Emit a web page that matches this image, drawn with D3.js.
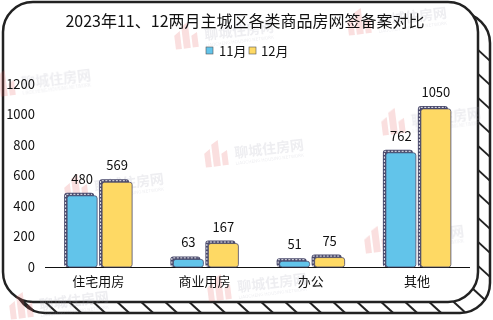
<!DOCTYPE html>
<html>
<head>
<meta charset="utf-8">
<script src="https://cdn.jsdelivr.net/npm/d3@7"></script>
<style>
  body { margin: 0; background: #fff; }
  svg { display: block; font-family: "Noto Sans CJK SC", "Noto Sans", sans-serif; }
</style>
</head>
<body>
<svg id="chart" width="493" height="320"></svg>
<script>
const title = '2023年11、12两月主城区各类商品房网签备案对比';
const categories = ['住宅用房', '商业用房', '办公', '其他'];
const seriesNames = ['11月', '12月'];
const nov = [480, 63, 51, 762];
const dec = [569, 167, 75, 1050];
const yTicks = [0, 200, 400, 600, 800, 1000, 1200];
const colors = ['#62c4ea', '#fed964'];
const watermarks = [[205, 40], [378, 26], [22, 88], [95, 192], [235, 158], [412, 126], [395, 244], [238, 292], [40, 310]];

const svg = d3.select('#chart');

// frame: rounded box with an extruded, ladder-like edge on right/bottom
const ix0 = 3, iy0 = 2, ix1 = 478, iy1 = 302, r = 30, dx = 12, dy = 11;
function roundRect(x0, y0, x1, y1, rr) {
  const p = d3.path();
  p.moveTo(x0 + rr, y0);
  p.lineTo(x1 - rr, y0); p.arcTo(x1, y0, x1, y0 + rr, rr);
  p.lineTo(x1, y1 - rr); p.arcTo(x1, y1, x1 - rr, y1, rr);
  p.lineTo(x0 + rr, y1); p.arcTo(x0, y1, x0, y1 - rr, rr);
  p.lineTo(x0, y0 + rr); p.arcTo(x0, y0, x0 + rr, y0, rr);
  p.closePath();
  return p.toString();
}
const frame = svg.append('g');
frame.append('path').attr('d', roundRect(ix0 + dx, iy0 + dy, ix1 + dx, iy1 + dy, r))
  .attr('fill', '#fff').attr('stroke', '#222').attr('stroke-width', 2.5);
const inner = frame.append('path').attr('d', roundRect(ix0, iy0, ix1, iy1, r))
  .attr('fill', 'none').attr('stroke', 'none');
// hatch lines between the two outlines
const node = inner.node(), len = node.getTotalLength();
for (let s = 0; s < len; s += 24) {
  const pt = node.getPointAtLength(s);
  if (pt.x > ix1 - r - 10 || pt.y > iy1 - r + 5) {
    if (pt.y < iy0 + r + 8) continue;
    frame.append('line').attr('x1', pt.x).attr('y1', pt.y).attr('x2', pt.x + dx).attr('y2', pt.y + dy)
      .attr('stroke', '#222').attr('stroke-width', 2);
  }
}
frame.append('path').attr('d', roundRect(ix0, iy0, ix1, iy1, r))
  .attr('fill', '#fff').attr('stroke', '#222').attr('stroke-width', 2.5);

// watermarks
const wm = svg.append('g').attr('opacity', 0.2);
watermarks.forEach(([x, y]) => {
  const g = wm.append('g').attr('transform', `translate(${x},${y}) rotate(-7)`);
  g.append('path').attr('d', 'M-30,6 L-30,-8 L-24,-12 L-24,6 Z M-22,6 L-22,-16 L-15,-20 L-15,6 Z M-13,6 L-13,-6 L-7,-9 L-7,6 Z')
    .attr('fill', '#e46060');
  g.append('text').attr('x', 0).attr('y', 0).attr('font-size', 14).attr('font-weight', 'bold')
    .attr('fill', '#a8a8b8').text('聊城住房网');
  g.append('text').attr('x', 0).attr('y', 7).attr('font-size', 4.5).attr('fill', '#a8a8b8')
    .text('LIAOCHENG HOUSING NETWORK');
});

// scales
const y = d3.scaleLinear().domain([0, 1200]).range([267, 84]);
const x0 = d3.scaleBand().domain(categories).range([45, 470]).paddingInner(0.36).paddingOuter(0.18);
const x1 = d3.scaleBand().domain(seriesNames).range([0, x0.bandwidth()]).paddingInner(0.057);

// title
svg.append('text').attr('x', 245).attr('y', 27).attr('text-anchor', 'middle')
  .attr('font-size', 16).attr('fill', '#111').text(title);

// legend
const legend = svg.append('g').attr('font-size', 13);
[[206, 219], [249, 261]].forEach(([sx, tx], i) => {
  legend.append('rect').attr('x', sx).attr('y', 47).attr('width', 7).attr('height', 7)
    .attr('fill', colors[i]).attr('stroke', '#555').attr('stroke-width', 0.6);
  legend.append('text').attr('x', tx).attr('y', 56).attr('fill', '#111').text(seriesNames[i]);
});

// y axis labels
const yAxis = svg.append('g').attr('transform', 'translate(35,0)')
  .call(d3.axisLeft(y).tickValues(yTicks).tickFormat(d3.format('d')).tickSize(0).tickPadding(0));
yAxis.select('.domain').remove();
yAxis.selectAll('text').attr('font-size', 13).attr('fill', '#111').attr('font-family', '"Noto Sans CJK SC", sans-serif');

// x axis
const xAxis = svg.append('g').attr('transform', 'translate(0,267)')
  .call(d3.axisBottom(x0).tickSize(0).tickPadding(10));
xAxis.select('.domain').attr('stroke', '#111').attr('d', 'M45,0.5H470');
xAxis.selectAll('text').attr('font-size', 13).attr('fill', '#111').attr('font-family', '"Noto Sans CJK SC", sans-serif');

// bars: dark offset "shadow" slab with a white stitched edge, then the coloured body
const rows = categories.map((c, i) => ({ cat: c, vals: [nov[i], dec[i]] }));
const sh = 3, bw = x1.bandwidth() - sh;
const groups = svg.append('g').selectAll('g').data(rows).join('g')
  .attr('transform', d => `translate(${x0(d.cat)},0)`);
const bars = groups.selectAll('g').data(d => d.vals.map((v, i) => ({ v, s: seriesNames[i], i })))
  .join('g').attr('transform', d => `translate(${x1(d.s)},0)`);
bars.append('rect').attr('x', 0).attr('y', d => y(d.v) - 1).attr('width', bw).attr('height', d => y(0) - y(d.v) + 1)
  .attr('rx', 3).attr('fill', '#4a4a6c');
bars.append('path')
  .attr('d', d => `M1.5,${y(0)} V${y(d.v) + 0.5} H${bw - 2}`)
  .attr('fill', 'none').attr('stroke', '#fff').attr('stroke-width', 0.9).attr('stroke-dasharray', '2,1.5');
bars.append('rect').attr('x', sh).attr('y', d => Math.min(y(d.v) + sh - 1, y(0) - 1)).attr('width', bw)
  .attr('height', d => Math.max(1, y(0) - y(d.v) - sh + 1)).attr('rx', 2.5)
  .attr('fill', d => colors[d.i]).attr('stroke', '#4a4a6c').attr('stroke-width', 0.8);
bars.append('text').attr('x', sh + bw / 2).attr('y', d => y(d.v) - 10).attr('text-anchor', 'middle')
  .attr('font-size', 13).attr('fill', '#111').text(d => d.v);
</script>
</body>
</html>
